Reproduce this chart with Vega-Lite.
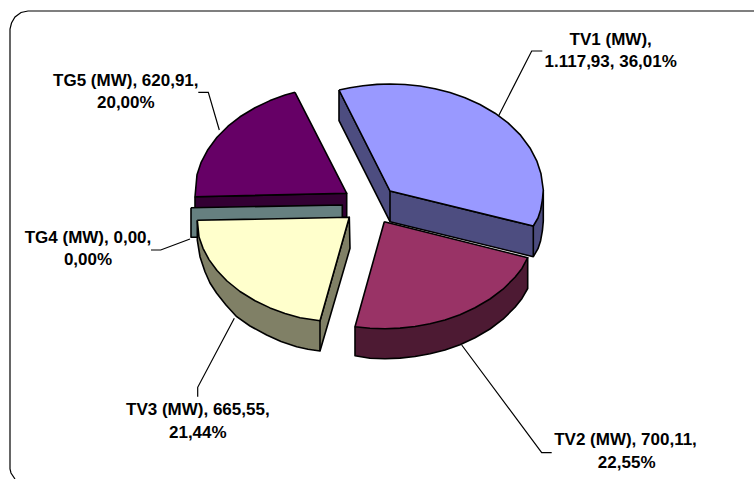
{"$schema":"https://vega.github.io/schema/vega-lite/v6.json","width":754,"height":479,"padding":0,"autosize":{"type":"none"},"background":"white","view":{"stroke":null},
"datasets":{
"faces":[
{"part":"TG5 side","x":195,"y":196.7},{"part":"TG5 side","x":346.7,"y":193.3},{"part":"TG5 side","x":346.7,"y":216.7},{"part":"TG5 side","x":195,"y":220},{"part":"TG5 side","x":195,"y":196.7},
{"part":"TG5 top","x":295,"y":92.3},{"part":"TG5 top","x":285,"y":95.1},{"part":"TG5 top","x":270,"y":100.6},{"part":"TG5 top","x":255,"y":107.7},{"part":"TG5 top","x":240,"y":116.8},{"part":"TG5 top","x":228,"y":126.2},{"part":"TG5 top","x":217,"y":137.3},{"part":"TG5 top","x":208,"y":149.4},{"part":"TG5 top","x":201,"y":162.7},{"part":"TG5 top","x":197,"y":174.7},{"part":"TG5 top","x":195,"y":196.7},{"part":"TG5 top","x":346.7,"y":193.3},{"part":"TG5 top","x":295,"y":92.3},
{"part":"TG4 side","x":191,"y":207.7},{"part":"TG4 side","x":342.3,"y":205},{"part":"TG4 side","x":342.3,"y":220},{"part":"TG4 side","x":198,"y":237.3},{"part":"TG4 side","x":191,"y":237.3},{"part":"TG4 side","x":191,"y":207.7},
{"part":"TV3 side","x":197.3,"y":220.3},{"part":"TV3 side","x":197.3,"y":240},{"part":"TV3 side","x":200,"y":256.7},{"part":"TV3 side","x":205,"y":271.7},{"part":"TV3 side","x":210,"y":283},{"part":"TV3 side","x":216.7,"y":293.3},{"part":"TV3 side","x":226,"y":305},{"part":"TV3 side","x":236.7,"y":316.7},{"part":"TV3 side","x":250,"y":326},{"part":"TV3 side","x":266.7,"y":335},{"part":"TV3 side","x":281,"y":341.5},{"part":"TV3 side","x":296.7,"y":346.7},{"part":"TV3 side","x":308,"y":349.3},{"part":"TV3 side","x":320,"y":351},{"part":"TV3 side","x":350,"y":248.3},{"part":"TV3 side","x":349.3,"y":217.3},{"part":"TV3 side","x":320,"y":320.7},{"part":"TV3 side","x":197.3,"y":220.3},
{"part":"TV3 top","x":197.3,"y":220.3},{"part":"TV3 top","x":349.3,"y":217.3},{"part":"TV3 top","x":320,"y":320.7},{"part":"TV3 top","x":300,"y":317.7},{"part":"TV3 top","x":285,"y":313.4},{"part":"TV3 top","x":270,"y":307.9},{"part":"TV3 top","x":255,"y":300.7},{"part":"TV3 top","x":240,"y":291.5},{"part":"TV3 top","x":227,"y":281},{"part":"TV3 top","x":217,"y":270.5},{"part":"TV3 top","x":209,"y":259.6},{"part":"TV3 top","x":203,"y":248.3},{"part":"TV3 top","x":199,"y":237.1},{"part":"TV3 top","x":197.3,"y":220.3},
{"part":"TV3 edge","x":320,"y":320.7},{"part":"TV3 edge","x":320,"y":351},
{"part":"TV2 side","x":355,"y":326.8},{"part":"TV2 side","x":355,"y":355.8},{"part":"TV2 side","x":370,"y":358.2},{"part":"TV2 side","x":385,"y":358.7},{"part":"TV2 side","x":400,"y":358.1},{"part":"TV2 side","x":415,"y":356.5},{"part":"TV2 side","x":430,"y":353.8},{"part":"TV2 side","x":445,"y":349.9},{"part":"TV2 side","x":460,"y":344.7},{"part":"TV2 side","x":475,"y":337.8},{"part":"TV2 side","x":490,"y":329},{"part":"TV2 side","x":503,"y":319.2},{"part":"TV2 side","x":515,"y":307.3},{"part":"TV2 side","x":522,"y":298.4},{"part":"TV2 side","x":527.7,"y":288.5},{"part":"TV2 side","x":527.7,"y":257.7},{"part":"TV2 side","x":355,"y":326.8},
{"part":"TV2 top","x":384.3,"y":221.7},{"part":"TV2 top","x":527.7,"y":257.7},{"part":"TV2 top","x":522,"y":268.4},{"part":"TV2 top","x":515,"y":277.3},{"part":"TV2 top","x":503,"y":289.2},{"part":"TV2 top","x":490,"y":299},{"part":"TV2 top","x":475,"y":307.8},{"part":"TV2 top","x":460,"y":314.7},{"part":"TV2 top","x":445,"y":319.9},{"part":"TV2 top","x":430,"y":323.8},{"part":"TV2 top","x":415,"y":326.5},{"part":"TV2 top","x":400,"y":328.1},{"part":"TV2 top","x":385,"y":328.7},{"part":"TV2 top","x":370,"y":328.2},{"part":"TV2 top","x":355,"y":326.8},{"part":"TV2 top","x":384.3,"y":221.7},
{"part":"TV1 side","x":339,"y":90},{"part":"TV1 side","x":339,"y":120.7},{"part":"TV1 side","x":390,"y":221.7},{"part":"TV1 side","x":533.3,"y":256.7},{"part":"TV1 side","x":538,"y":248.7},{"part":"TV1 side","x":540.6,"y":240.7},{"part":"TV1 side","x":542.4,"y":230.7},{"part":"TV1 side","x":543.3,"y":221},{"part":"TV1 side","x":543.3,"y":190},{"part":"TV1 side","x":533.3,"y":226},{"part":"TV1 side","x":390,"y":191},{"part":"TV1 side","x":339,"y":90},
{"part":"TV1 top","x":339,"y":90},{"part":"TV1 top","x":350,"y":87.7},{"part":"TV1 top","x":363,"y":85.7},{"part":"TV1 top","x":377,"y":84.4},{"part":"TV1 top","x":390,"y":84},{"part":"TV1 top","x":405,"y":84.5},{"part":"TV1 top","x":420,"y":86},{"part":"TV1 top","x":435,"y":88.7},{"part":"TV1 top","x":450,"y":92.6},{"part":"TV1 top","x":465,"y":97.7},{"part":"TV1 top","x":480,"y":104.5},{"part":"TV1 top","x":495,"y":113.2},{"part":"TV1 top","x":508,"y":122.9},{"part":"TV1 top","x":520,"y":134.6},{"part":"TV1 top","x":530,"y":147.9},{"part":"TV1 top","x":537,"y":161.4},{"part":"TV1 top","x":541,"y":173.8},{"part":"TV1 top","x":543.3,"y":190},{"part":"TV1 top","x":542.4,"y":200},{"part":"TV1 top","x":540.6,"y":210},{"part":"TV1 top","x":538,"y":218},{"part":"TV1 top","x":533.3,"y":226},{"part":"TV1 top","x":390,"y":191},{"part":"TV1 top","x":339,"y":90},
{"part":"TV1 edge","x":390,"y":191},{"part":"TV1 edge","x":390,"y":221.7},
{"part":"TV1 edge2","x":533.3,"y":226},{"part":"TV1 edge2","x":533.3,"y":256.7}
],
"lines":[
{"name":"frame","x":754,"y":11},{"name":"frame","x":28,"y":11},{"name":"frame","x":21,"y":12.5},{"name":"frame","x":15,"y":17},{"name":"frame","x":11.5,"y":23},{"name":"frame","x":10,"y":29},{"name":"frame","x":10,"y":469},{"name":"frame","x":11,"y":473},{"name":"frame","x":15,"y":479},
{"name":"TV1 (MW)","x":497.5,"y":118},{"name":"TV1 (MW)","x":531.7,"y":51},{"name":"TV1 (MW)","x":542.3,"y":51},
{"name":"TV2 (MW)","x":461.7,"y":345},{"name":"TV2 (MW)","x":541.7,"y":452.7},{"name":"TV2 (MW)","x":551.7,"y":452.7},
{"name":"TV3 (MW)","x":234.3,"y":318.3},{"name":"TV3 (MW)","x":197.7,"y":387.3},{"name":"TV3 (MW)","x":197.7,"y":396.7},
{"name":"TG4 (MW)","x":190,"y":239},{"name":"TG4 (MW)","x":160.7,"y":250},{"name":"TG4 (MW)","x":151,"y":250},
{"name":"TG5 (MW)","x":219.3,"y":130},{"name":"TG5 (MW)","x":208.3,"y":92.3},{"name":"TG5 (MW)","x":198.3,"y":92.3}
],
"labels":[
{"t":"TV1 (MW),","x":610.7,"y":40},{"t":"1.117,93, 36,01%","x":610.7,"y":62.3},
{"t":"TV2 (MW), 700,11,","x":625.5,"y":440},{"t":"22,55%","x":626.7,"y":463},
{"t":"TV3 (MW), 665,55,","x":197.8,"y":410},{"t":"21,44%","x":197.8,"y":433},
{"t":"TG4 (MW), 0,00,","x":88,"y":238.3},{"t":"0,00%","x":88,"y":260},
{"t":"TG5 (MW), 620,91,","x":125.8,"y":80.7},{"t":"20,00%","x":125.8,"y":103.3}
]},
"layer":[
{"data":{"name":"lines"},
"transform":[{"window":[{"op":"row_number","as":"i"}]}],
"mark":{"type":"line","stroke":"black","strokeWidth":1.2},
"encoding":{"x":{"field":"x","type":"quantitative","scale":{"domain":[0,754]},"axis":null},"y":{"field":"y","type":"quantitative","scale":{"domain":[479,0]},"axis":null},"detail":{"field":"name"},"order":{"field":"i","type":"quantitative"}}},
{"data":{"name":"faces"},
"transform":[{"window":[{"op":"row_number","as":"i"}]}],
"mark":{"type":"line","stroke":"black","strokeWidth":1.6,"strokeJoin":"round"},
"encoding":{"x":{"field":"x","type":"quantitative","scale":{"domain":[0,754]},"axis":null},"y":{"field":"y","type":"quantitative","scale":{"domain":[479,0]},"axis":null},"detail":{"field":"part"},"order":{"field":"i","type":"quantitative"},
"fill":{"field":"part","type":"nominal","legend":null,"scale":{"domain":["TG5 side","TG5 top","TG4 side","TV3 side","TV3 top","TV3 edge","TV2 side","TV2 top","TV1 side","TV1 top","TV1 edge","TV1 edge2"],"range":["#330033","#660066","#668080","#808066","#FFFFCC","#000000","#4D1A33","#993366","#4D4D80","#9999FF","#000000","#000000"]}}}},
{"data":{"name":"labels"},
"mark":{"type":"text","font":"Liberation Sans","fontWeight":"bold","fontSize":17,"align":"center","baseline":"middle","color":"black"},
"encoding":{"x":{"field":"x","type":"quantitative","scale":{"domain":[0,754]},"axis":null},"y":{"field":"y","type":"quantitative","scale":{"domain":[479,0]},"axis":null},"text":{"field":"t"}}}
]}
